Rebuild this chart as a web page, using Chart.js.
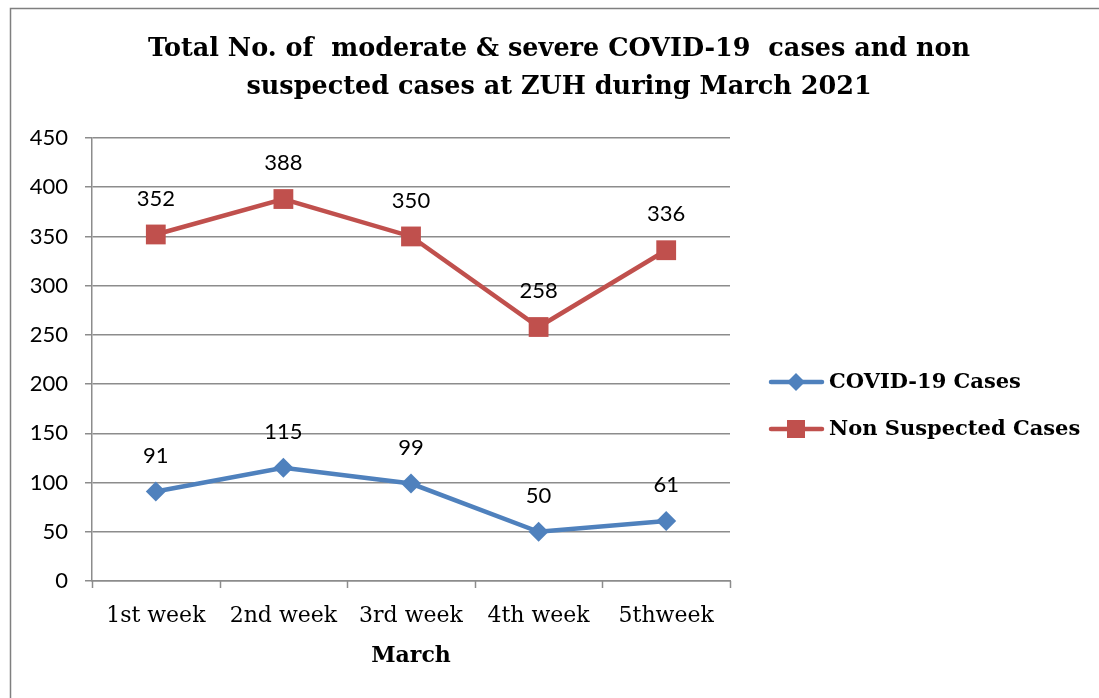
<!DOCTYPE html>
<html><head><meta charset="utf-8">
<script src="https://cdn.jsdelivr.net/npm/chart.js@4.4.1/dist/chart.umd.min.js"></script>
<style>html,body{margin:0;padding:0;background:#fff;}#wrap{width:1099px;height:698px;position:relative;}</style>
</head><body><div id="wrap"><canvas id="c" width="1099" height="698"></canvas></div>
<script>
const categories = ["1st week", "2nd week", "3rd week", "4th week", "5thweek"];
const covidCases = [91, 115, 99, 50, 61];
const nonSuspected = [352, 388, 350, 258, 336];
const seriesNames = ["COVID-19 Cases", "Non Suspected Cases"];
const titleLines = ["Total No. of  moderate & severe COVID-19  cases and non", "suspected cases at ZUH during March 2021"];
const xTitle = "March";

const BLUE = '#4F81BD', RED = '#C0504D', GRID = '#8c8c8c';
const serif = '"DejaVu Serif", serif';

const decor = {
  id: 'decor',
  beforeDraw(chart) {
    const ctx = chart.ctx;
    ctx.save();
    ctx.fillStyle = '#fff';
    ctx.fillRect(0, 0, chart.width, chart.height);
    ctx.strokeStyle = '#7f7f7f';
    ctx.lineWidth = 1.5;
    ctx.strokeRect(10.5, 8.5, 1200, 800);
    ctx.restore();
  },
  afterDraw(chart) {
    const ctx = chart.ctx;
    const x = chart.scales.x, y = chart.scales.y;
    ctx.save();
    // title
    ctx.fillStyle = '#000';
    ctx.textAlign = 'center';
    ctx.textBaseline = 'middle';
    ctx.font = 'bold 25.5px ' + serif;
    ctx.fillText(titleLines[0], 559, 49);
    ctx.fillText(titleLines[1], 559, 87);
    // data labels
    ctx.font = '22px Lato, sans-serif';
    chart.data.datasets.forEach((ds, di) => {
      const meta = chart.getDatasetMeta(di);
      meta.data.forEach((pt, i) => {
        ctx.fillText(String(ds.data[i]), pt.x, pt.y - 36);
      });
    });
    // x axis tick marks below
    ctx.strokeStyle = GRID; ctx.lineWidth = 1.5;
    const n = categories.length;
    for (let i = 0; i <= n; i++) {
      const px = Math.round(x.left + (x.right - x.left) * i / n) + 0.5;
      ctx.beginPath(); ctx.moveTo(px, y.bottom); ctx.lineTo(px, y.bottom + 7); ctx.stroke();
    }
    // x title
    ctx.font = 'bold 22px ' + serif;
    ctx.fillText(xTitle, (x.left + x.right) / 2, 656);
    // legend
    const items = [
      {name: seriesNames[0], color: BLUE, style: 'diamond', y: 382},
      {name: seriesNames[1], color: RED, style: 'square', y: 429}
    ];
    items.forEach(it => {
      ctx.strokeStyle = it.color; ctx.lineWidth = 4.5; ctx.lineCap = 'round';
      ctx.beginPath(); ctx.moveTo(771, it.y); ctx.lineTo(822, it.y); ctx.stroke();
      ctx.fillStyle = it.color;
      const cx = 796;
      if (it.style === 'diamond') {
        ctx.beginPath(); ctx.moveTo(cx, it.y - 9); ctx.lineTo(cx + 9, it.y); ctx.lineTo(cx, it.y + 9); ctx.lineTo(cx - 9, it.y); ctx.closePath(); ctx.fill();
      } else {
        ctx.fillRect(cx - 9, it.y - 9, 18, 18);
      }
      ctx.fillStyle = '#000';
      ctx.textAlign = 'left';
      ctx.font = 'bold 21px ' + serif;
      ctx.fillText(it.name, 829, it.y + 1);
    });
    ctx.restore();
  }
};

new Chart(document.getElementById('c'), {
  type: 'line',
  data: {
    labels: categories,
    datasets: [
      {label: seriesNames[0], data: covidCases, borderColor: BLUE, backgroundColor: BLUE, borderWidth: 4.5,
       pointStyle: 'rectRot', pointRadius: 10, pointHoverRadius: 10, pointBorderWidth: 0, tension: 0},
      {label: seriesNames[1], data: nonSuspected, borderColor: RED, backgroundColor: RED, borderWidth: 4.5,
       pointStyle: 'rect', pointRadius: 14, pointHoverRadius: 14, pointBorderWidth: 0, tension: 0}
    ]
  },
  options: {
    responsive: false,
    animation: false,
    events: [],
    layout: {padding: {top: 138, right: 369, left: 0, bottom: 0}},
    plugins: {legend: {display: false}, title: {display: false}, tooltip: {enabled: false}},
    scales: {
      x: {
        offset: true,
        grid: {display: false, drawTicks: false},
        border: {display: true, color: GRID, width: 1.5},
        ticks: {color: '#000', font: {family: serif, size: 22}, padding: 22, maxRotation: 0},
        afterFit(s) { s.height = 117; }
      },
      y: {
        min: 0, max: 450,
        ticks: {stepSize: 50, color: '#000', font: {family: 'Lato, sans-serif', size: 22}, padding: 17},
        grid: {color: GRID, lineWidth: 1.5, tickLength: 7, drawTicks: true},
        border: {display: true, color: GRID, width: 1.5},
        afterFit(s) { s.width = 92; }
      }
    }
  },
  plugins: [decor]
});
</script></body></html>
